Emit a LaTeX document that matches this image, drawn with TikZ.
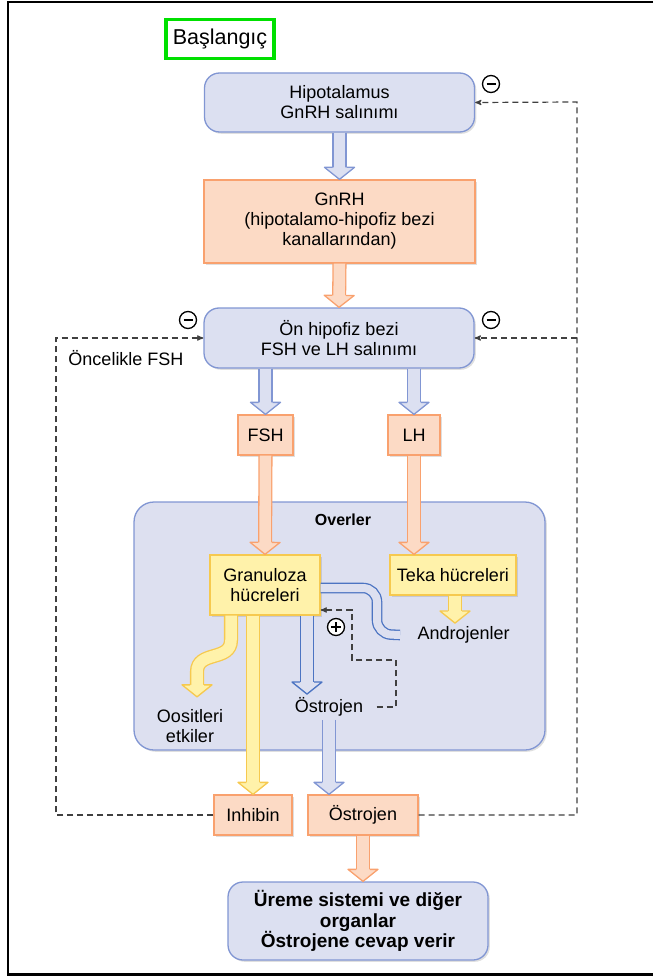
\documentclass[tikz,border=0pt]{standalone}
\usepackage{fontspec}
\setmainfont{Liberation Sans}
\usetikzlibrary{arrows, calc, shadows, decorations.markings}

\definecolor{lavfill}{HTML}{DCE0F1}
\definecolor{lavline}{HTML}{8196D3}
\definecolor{ovfill}{HTML}{DDE0F0}
\definecolor{orfill}{HTML}{FCDAC5}
\definecolor{orline}{HTML}{F9A16E}
\definecolor{yefill}{HTML}{FFF2AA}
\definecolor{yeline}{HTML}{F6C94F}
\definecolor{dkblue}{HTML}{4C74C2}
\definecolor{startgreen}{HTML}{00E000}

% hollow block arrow: #1 inside colour, #2 border colour
\tikzset{
  flex/.style 2 args={draw=#2, line width=1.3pt, double=#1, double distance=11.5pt, shorten >=11pt,
    postaction={decorate, decoration={markings, mark=at position 1 with {
      \fill[#1, shorten >=0pt] (0pt,0pt) -- (-12pt,15pt) -- (-12pt,-15pt) -- cycle;
      \draw[#2, line width=1.3pt, line join=round, shorten >=0pt]
        (-12pt,7pt) -- (-12pt,15pt) -- (0pt,0pt) -- (-12pt,-15pt) -- (-12pt,-7pt);}}}},
}

\begin{document}
\begin{tikzpicture}
[x=1pt, y=-1pt,
 >=stealth',
 every node/.style={font=\fontsize{18}{20}\selectfont},
 shade box/.style={drop shadow={shadow xshift=1.8pt, shadow yshift=-1.8pt, opacity=0.25}},
 lavbox/.style={draw=lavline, fill=lavfill, line width=1.3pt, rounded corners=15pt, align=center, shade box},
 orbox/.style={draw=orline, fill=orfill, line width=1.3pt, align=center, shade box},
 yebox/.style={draw=yeline, fill=yefill, line width=1.3pt, align=center, shade box},
 startbox/.style={draw=startgreen, line width=3.5pt, font=\fontsize{21.5}{24}\selectfont},
 sign/.style={circle, draw, line width=1.3pt, fill=white, minimum size=17pt, inner sep=0pt},
 fb/.style={->, draw=black!75, line width=1.2pt, dash pattern=on 6pt off 4pt},
]

\path[use as bounding box] (0,0) rectangle (653,976);
\draw[line width=2.5pt] (653,2) -- (8,2) -- (8,974.5) -- (653,974.5);

\node[startbox, minimum width=108pt, minimum height=39pt] (start) at (220,39) {Başlangıç};

\node[lavbox, minimum width=270pt, minimum height=59pt] (hypo)  at (339.5,102.5) {Hipotalamus\\GnRH salınımı};
\node[orbox,  minimum width=271pt, minimum height=83pt] (gnrh)  at (339.5,221.5) {GnRH\\(hipotalamo-hipofiz bezi\\kanallarından)};
\node[lavbox, minimum width=270pt, minimum height=60pt] (onhip) at (339,338) {Ön hipofiz bezi\\FSH ve LH salınımı};
\node (fshnote) at (126,358) {Öncelikle FSH};
\node[orbox, minimum width=55pt, minimum height=40pt] (fsh) at (265.5,435) {FSH};
\node[orbox, minimum width=52pt, minimum height=40pt] (lh)  at (414,435) {LH};

\node[lavbox, fill=ovfill, rounded corners=20pt, minimum width=411pt, minimum height=248pt] (ovary) at (339.5,626) {};
\node[font=\bfseries\fontsize{16}{18}\selectfont] (ovlabel) at (343,520) {Overler};
\node[yebox, minimum width=110pt, minimum height=60pt] (gran) at (265,585) {Granuloza\\hücreleri};
\node[yebox, minimum width=126pt, minimum height=40pt] (teka) at (453,575) {Teka hücreleri};
\node[anchor=west] (andro) at (414,635) {Androjenler};
\node (estin) at (329,707) {Östrojen};
\node[align=center] (oos) at (190,726) {Oositleri\\etkiler};

\node[orbox, minimum width=78pt,  minimum height=40pt] (inhibin) at (253,815) {Inhibin};
\node[orbox, minimum width=110pt, minimum height=40pt] (estout)  at (363,815) {Östrojen};
\node[lavbox, minimum width=260pt, minimum height=78pt, font=\bfseries\fontsize{19}{20.5}\selectfont] (ureme) at (358,921)
  {Üreme sistemi ve diğer\\organlar\\Östrojene cevap verir};

\node[sign] (m1) at (491,84) {};
\node[sign] (m2) at (188,320) {};
\node[sign] (m3) at (491,320) {};
\node[sign] (p1) at (336,627) {};
\foreach \s in {m1,m2,m3}
  \draw[line width=2.8pt] ([xshift=-4.5pt]\s.center) -- ([xshift=4.5pt]\s.center);
\draw[line width=1.5pt] ([xshift=-5pt]p1.center) -- ([xshift=5pt]p1.center)
  ([yshift=-5pt]p1.center) -- ([yshift=5pt]p1.center);

% block arrows
\draw[flex={lavfill}{lavline}] (hypo.south) -- (gnrh.north);
\draw[flex={orfill}{orline}] (gnrh.south) -- (onhip.north);
\draw[flex={lavfill}{lavline}] (onhip.south -| fsh.north) -- (fsh.north);
\draw[flex={lavfill}{lavline}] (onhip.south -| lh.north) -- (lh.north);
\draw[flex={orfill}{orline}] (fsh.south) -- (gran.north);
\draw[flex={orfill}{orline}] (lh.south) -- (lh.south |- teka.north);
\draw[flex={yefill}{yeline}] (teka.south -| 455,0) -- (andro.north -| 455,0);
\draw[flex={ovfill}{dkblue}] (gran.south -| 307,0) -- (estin.north -| 307,0);
\draw[flex={yefill}{yeline}] (gran.south -| 231,0) -- (231,640)
  .. controls (231,662) and (197,650) .. (197,672) -- ($(oos.north -| 197,0)+(0,-9)$);
\draw[flex={yefill}{yeline}] (gran.south -| inhibin.north) -- (inhibin.north);
\draw[flex={lavfill}{lavline}] (estin.south) -- (estin.south |- estout.north);
\draw[flex={orfill}{orline}] (estout.south) -- (estout.south |- ureme.north);

% androjen band
\draw[dkblue, line width=1.3pt, double=ovfill, double distance=8pt, rounded corners=14pt]
  (gran.east |- 0,588) -- (377,588) -- (377,634) -- ($(andro.west)+(-14,0)$);

% feedback
\coordinate (rt) at (577,102);
\coordinate (lt) at (56,338);
\draw[fb] (estout.east) -| (rt) -- (hypo.east);
\draw[fb] (onhip.east -| rt) -- (onhip.east);
\draw[fb] (inhibin.west) -| (lt) -- (onhip.west);
\draw[fb, shorten <=10pt] (estin.east) -- (396,707) -- (396,660) -- (352,660) -- (352,610) -- (gran.east |- 0,610);
\end{tikzpicture}
\end{document}
